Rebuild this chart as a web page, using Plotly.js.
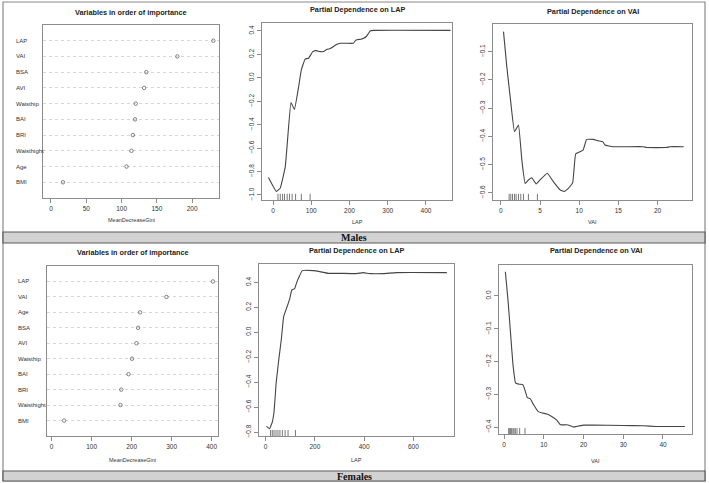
<!DOCTYPE html>
<html><head><meta charset="utf-8">
<script src="https://cdn.plot.ly/plotly-3.0.1.min.js"></script>
<style>html,body{margin:0;padding:0;background:#fff}#chart{width:709px;height:483px}</style>
</head><body><div id="chart"></div>
<script>
// ---------------- DATA ----------------
const maleVars   = ["LAP","VAI","BSA","AVI","Waisthip","BAI","BRI","Waisthight","Age","BMI"];
const maleGini   = [230,179,135,132,120,119,116,114,107,17];
const femaleVars = ["LAP","VAI","Age","BSA","AVI","Waisthip","BAI","BRI","Waisthight","BMI"];
const femaleGini = [403,287,221,216,212,201,192,174,172,31];

const maleLapX = [-12,9,19,32,38,47,56,67,74,84,93,104,113,123,132,141,150,167,176,193,210,217,230,237,245,254,263,464];
const maleLapY = [-0.85,-0.97,-0.94,-0.76,-0.53,-0.21,-0.27,-0.075,0.067,0.16,0.167,0.224,0.232,0.224,0.224,0.243,0.25,0.286,0.295,0.295,0.295,0.323,0.33,0.337,0.357,0.40,0.405,0.405];
const maleLapRug = [13,19,25,30,37,43,50,59,74,97];

const maleVaiX = [0.34,0.76,1.19,1.74,2.25,2.68,3.1,3.52,3.95,4.5,5.0,5.94,6.7,7.56,8.07,8.62,9.17,9.55,10.1,10.5,10.95,11.8,12.4,13.0,13.3,14.35,18.2,18.6,21.1,21.6,23.35];
const maleVaiY = [-0.029,-0.153,-0.26,-0.384,-0.36,-0.484,-0.567,-0.555,-0.547,-0.569,-0.555,-0.531,-0.561,-0.59,-0.596,-0.585,-0.565,-0.463,-0.455,-0.449,-0.411,-0.411,-0.416,-0.419,-0.431,-0.437,-0.437,-0.44,-0.44,-0.437,-0.437];
const maleVaiRug = [1.06,1.27,1.49,1.74,1.95,2.25,2.55,2.89,3.52,4.67];

const femaleLapX = [3,16,27,34,43,54,64,73,87,98,106,118,125,136,149,193,220,254,301,369,396,424,478,532,736];
const femaleLapY = [-0.755,-0.773,-0.72,-0.64,-0.40,-0.21,-0.05,0.124,0.204,0.27,0.338,0.35,0.392,0.445,0.494,0.494,0.486,0.472,0.472,0.47,0.478,0.47,0.47,0.478,0.478];
const femaleLapRug = [20,27,34,42,50,58,68,79,91,121];

const femaleVaiX = [0.34,1.0,1.68,2.26,2.93,3.77,4.78,5.37,5.87,6.62,7.46,8.55,9.64,10.8,11.9,13.2,14.2,15.7,16.5,17.5,18.2,20,22.4,29.9,35,38.3,45.5];
const femaleVaiY = [0.074,-0.012,-0.119,-0.21,-0.266,-0.269,-0.271,-0.291,-0.31,-0.314,-0.332,-0.352,-0.357,-0.36,-0.367,-0.378,-0.393,-0.393,-0.395,-0.40,-0.398,-0.394,-0.394,-0.395,-0.396,-0.398,-0.398];
const femaleVaiRug = [1.17,1.43,1.68,1.93,2.26,2.52,2.85,3.27,3.94,5.28];

const panelTitles = ["Variables in order of importance","Partial Dependence on LAP","Partial Dependence on VAI",
                     "Variables in order of importance","Partial Dependence on LAP","Partial Dependence on VAI"];
const xTitles = ["MeanDecreaseGini","LAP","VAI","MeanDecreaseGini","LAP","VAI"];
const groupLabels = ["Males","Females"];

// ---------------- LAYOUT HELPERS ----------------
const W = 709, H = 483;
const px = v => v / W;
const py = v => 1 - v / H;
// plot boxes [left, top, right, bottom] in pixels
const boxes = [
  [43, 25, 219, 198],
  [262, 23, 452, 200],
  [493, 24, 692, 200],
  [47, 266, 218, 436],
  [259, 264, 454, 436],
  [499, 265, 692, 434]
];
const titleY = [12, 10, 11, 252, 250, 251];
const xTitleY = [220, 222, 222, 460, 460, 461];

const FONT = "Liberation Sans, Arial, sans-serif";
const lineCol = "#444";
const boxCol = "#8c8c8c";

function axisBase(i) {
  return {
    showline: true, mirror: true, linecolor: boxCol, linewidth: 1,
    ticks: "outside", ticklen: 4, tickcolor: boxCol, tickwidth: 1,
    tickfont: {family: FONT, size: 6.5, color: "#333"},
    showgrid: false, zeroline: false, fixedrange: true
  };
}

const layout = {
  width: W, height: H, margin: {l:0, r:0, t:0, b:0},
  paper_bgcolor: "#fff", plot_bgcolor: "#fff",
  showlegend: false, annotations: [], shapes: []
};

const xRanges = [[-11.3, 238], [-28.8, 468], [-1.0, 24.4], [-11.7, 415.8], [-27, 765], [-1.26, 47.3]];
const yRanges = [[0, 11], [-1.043, 0.468], [-0.626, -0.002], [0, 11], [-0.832, 0.547], [-0.421, 0.0945]];
const xTicks = [[0,50,100,150,200],[0,100,200,300,400],[0,5,10,15,20],[0,100,200,300,400],[0,200,400,600],[0,10,20,30,40]];
const yTicks = [null,[-1.0,-0.8,-0.6,-0.4,-0.2,0.0,0.2,0.4],[-0.6,-0.5,-0.4,-0.3,-0.2,-0.1],null,[-0.8,-0.6,-0.4,-0.2,0.0,0.2,0.4],[-0.4,-0.3,-0.2,-0.1,0.0]];

for (let i = 0; i < 6; i++) {
  const b = boxes[i];
  const sx = i === 0 ? "" : String(i + 1);
  const xa = axisBase(i), ya = axisBase(i);
  xa.domain = [px(b[0]), px(b[2])];
  ya.domain = [py(b[3]), py(b[1])];
  xa.range = xRanges[i]; ya.range = yRanges[i];
  xa.anchor = "y" + sx; ya.anchor = "x" + sx;
  xa.tickvals = xTicks[i];
  if (yTicks[i]) {
    ya.tickvals = yTicks[i];
    ya.tickformat = ".1f";
    ya.tickangle = -90;
  } else {
    ya.tickvals = [1,2,3,4,5,6,7,8,9,10];
    ya.ticks = "";
    ya.showticklabels = false;
    ya.showgrid = true;
    ya.gridcolor = "#d6d6d6";
    ya.griddash = "dot";
    ya.gridwidth = 1;
  }
  layout["xaxis" + sx] = xa;
  layout["yaxis" + sx] = ya;
  layout.annotations.push({
    xref: "paper", yref: "paper", x: px((b[0] + b[2]) / 2), y: py(titleY[i]),
    xanchor: "center", yanchor: "middle", showarrow: false,
    text: "<b>" + panelTitles[i] + "</b>", font: {family: FONT, size: 7.3, color: "#222"}
  });
  layout.annotations.push({
    xref: "paper", yref: "paper", x: px((b[0] + b[2]) / 2), y: py(xTitleY[i]),
    xanchor: "center", yanchor: "middle", showarrow: false,
    text: xTitles[i], font: {family: FONT, size: 5.5, color: "#333"}
  });
}

const traces = [];
// Dot charts
function dotchart(vars, vals, ax, labelX) {
  const n = vars.length;
  const ys = vars.map((v, i) => n - i);
  traces.push({
    x: vals, y: ys, type: "scatter", mode: "markers",
    xaxis: "x" + ax, yaxis: "y" + ax,
    marker: {symbol: "circle-open", size: 3.5, color: "#666", line: {width: 0.8, color: "#666"}},
    hoverinfo: "skip"
  });
  vars.forEach((v, i) => {
    layout.annotations.push({
      xref: "paper", yref: "y" + ax, x: px(labelX), y: ys[i],
      xanchor: "left", yanchor: "middle", showarrow: false,
      text: v, font: {family: FONT, size: 6, color: "#333"}
    });
  });
}
dotchart(maleVars, maleGini, "", 14);
dotchart(femaleVars, femaleGini, "4", 16);

function pdp(xs, ys, rug, ax) {
  traces.push({
    x: xs, y: ys, type: "scatter", mode: "lines",
    xaxis: "x" + ax, yaxis: "y" + ax,
    line: {color: lineCol, width: 1.1, shape: "spline", smoothing: 0.3},
    hoverinfo: "skip"
  });
  rug.forEach(r => {
    layout.shapes.push({
      type: "line", xref: "x" + ax, yref: "y" + ax + " domain",
      x0: r, x1: r, y0: 0, y1: 0.035,
      line: {color: "#555", width: 0.8}
    });
  });
}
pdp(maleLapX, maleLapY, maleLapRug, "2");
pdp(maleVaiX, maleVaiY, maleVaiRug, "3");
pdp(femaleLapX, femaleLapY, femaleLapRug, "5");
pdp(femaleVaiX, femaleVaiY, femaleVaiRug, "6");

// Frame and group bands
layout.shapes.push({type: "rect", xref: "paper", yref: "paper",
  x0: px(3), x1: px(705), y0: py(481), y1: py(2), line: {color: "#8a8a8a", width: 1.2}, layer: "below"});
const bands = [[232, 243], [471, 481]];
bands.forEach((bd, k) => {
  layout.shapes.push({type: "rect", xref: "paper", yref: "paper",
    x0: px(3), x1: px(705), y0: py(bd[1]), y1: py(bd[0]),
    fillcolor: "#d2d2d2", line: {color: "#5a5a5a", width: 1.2}});
  layout.annotations.push({
    xref: "paper", yref: "paper", x: px(354), y: py((bd[0] + bd[1]) / 2 + 0.5),
    xanchor: "center", yanchor: "middle", showarrow: false,
    text: "<b>" + groupLabels[k] + "</b>",
    font: {family: "Liberation Serif, Times New Roman, serif", size: 10, color: "#111"}
  });
});

Plotly.newPlot("chart", traces, layout, {displayModeBar: false, staticPlot: true});
</script>
</body></html>
